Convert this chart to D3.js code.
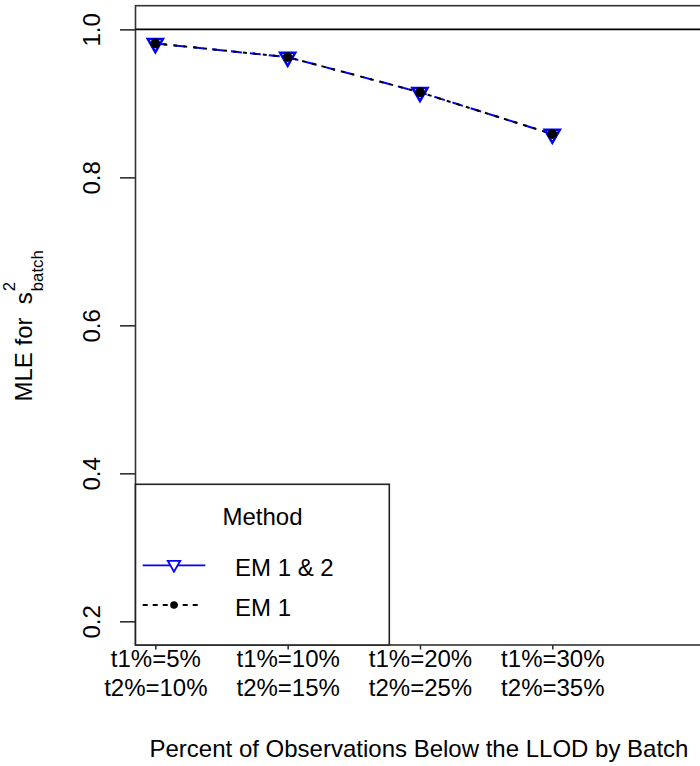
<!DOCTYPE html>
<html>
<head>
<meta charset="utf-8">
<script src="https://cdn.jsdelivr.net/npm/d3@7"></script>
<style>
  html, body { margin: 0; padding: 0; background: #fff; }
  svg text { font-family: "Liberation Sans", Arial, sans-serif; fill: #000; }
</style>
</head>
<body>
<svg id="chart" width="700" height="766"></svg>
<script>
// Censoring scenarios (x positions 1..4) and the estimated batch variance
const scenarios = [1, 2, 3, 4];
const labelsT1 = ["t1%=5%", "t1%=10%", "t1%=20%", "t1%=30%"];
const labelsT2 = ["t2%=10%", "t2%=15%", "t2%=25%", "t2%=35%"];
const em12 = [0.981, 0.9625, 0.915, 0.8585];
const em1 = [0.981, 0.9625, 0.915, 0.8585];
const yTicks = [0.2, 0.4, 0.6, 0.8, 1.0];
const refLine = 1.0;
const seriesNames = ["EM 1 & 2", "EM 1"];

(function draw() {
  const svg = d3.select("#chart");
  const pLeft = 135.5, pTop = 5.7, pBottom = 645, pRight = 704.5;

  const x = d3.scaleLinear().domain([0.85, 5.15]).range([pLeft, pRight]);
  const y = d3.scaleLinear().domain([0.168, 1.032]).range([pBottom, pTop]);

  const FS = 24;

  // Y axis
  const yAxis = svg.append("g")
    .attr("transform", `translate(${pLeft},0)`)
    .call(d3.axisLeft(y).tickValues(yTicks).tickSize(15.5).tickFormat(d3.format(".1f")));
  yAxis.select(".domain").remove();
  yAxis.selectAll("line").attr("stroke", "#222").attr("stroke-width", 1.5);
  yAxis.selectAll("text")
    .attr("transform", "rotate(-90)")
    .attr("x", 0).attr("y", -35.5).attr("dy", null)
    .attr("text-anchor", "middle")
    .attr("fill", "#000")
    .style("font-size", FS + "px");

  // X axis (short ticks, two-line labels)
  const xAxis = svg.append("g")
    .attr("transform", `translate(0,${pBottom})`)
    .call(d3.axisBottom(x).tickValues(scenarios).tickSize(4.5).tickFormat(""));
  xAxis.select(".domain").remove();
  xAxis.selectAll("line").attr("stroke", "#222").attr("stroke-width", 1.5);
  xAxis.selectAll(".tick").each(function(d, i) {
    const g = d3.select(this);
    g.append("text").attr("x", 0).attr("y", 22.3).attr("text-anchor", "middle")
      .attr("fill", "#000").style("font-size", FS + "px").text(labelsT1[i]);
    g.append("text").attr("x", 0).attr("y", 51.3).attr("text-anchor", "middle")
      .attr("fill", "#000").style("font-size", FS + "px").text(labelsT2[i]);
  });

  // Plot frame (right side runs past the canvas)
  svg.append("rect")
    .attr("x", pLeft).attr("y", pTop)
    .attr("width", pRight - pLeft).attr("height", pBottom - pTop)
    .attr("fill", "none").attr("stroke", "#333").attr("stroke-width", 1.6);

  // Reference line at 1
  svg.append("line")
    .attr("x1", pLeft).attr("x2", pRight)
    .attr("y1", y(refLine)).attr("y2", y(refLine))
    .attr("stroke", "#000").attr("stroke-width", 1.6);

  // Axis titles
  svg.append("text")
    .attr("x", (pLeft + pRight) / 2 - 1).attr("y", 756.5)
    .attr("text-anchor", "middle").style("font-size", FS + "px")
    .text("Percent of Observations Below the LLOD by Batch");

  const yl = svg.append("g").attr("transform", `translate(32,${(pTop + pBottom) / 2}) rotate(-90)`);
  const main = yl.append("text").style("font-size", FS + "px").attr("xml:space", "preserve")
    .text("MLE for  s");
  const sup = yl.append("text").style("font-size", (FS * 0.7) + "px").text("2");
  const sub = yl.append("text").style("font-size", (FS * 0.7) + "px").text("batch");
  const wMain = main.node().getComputedTextLength();
  const wScr = Math.max(sup.node().getComputedTextLength(), sub.node().getComputedTextLength()) + 2;
  const startX = -(wMain + wScr) / 2;
  main.attr("x", startX).attr("y", 0);
  sup.attr("x", startX + wMain + 1).attr("y", -17);
  sub.attr("x", startX + wMain + 1).attr("y", 11);

  // Series lines
  const line = d3.line().x((d, i) => x(scenarios[i])).y(d => y(d));
  svg.append("path").datum(em12).attr("d", line)
    .attr("fill", "none").attr("stroke", "#0000ff").attr("stroke-width", 2)
    .attr("stroke-dasharray", "11,8");
  svg.append("path").datum(em1).attr("d", line)
    .attr("fill", "none").attr("stroke", "#000").attr("stroke-width", 2)
    .attr("stroke-dasharray", "4,6").attr("stroke-dashoffset", 2);

  // Down-pointing triangle centred on the point (R pch 6 geometry)
  function triPath(cx, cy, r) {
    const xc = 1.347 * r, yc = 0.778 * r, rr = 1.555 * r;
    return `M${cx - xc},${cy - yc}L${cx + xc},${cy - yc}L${cx},${cy + rr}Z`;
  }

  svg.append("g").selectAll("path").data(em12).join("path")
    .attr("d", (d, i) => triPath(x(scenarios[i]), y(d), 5.6))
    .attr("fill", "none").attr("stroke", "#0000ff").attr("stroke-width", 2.5);
  svg.append("g").selectAll("circle").data(em1).join("circle")
    .attr("cx", (d, i) => x(scenarios[i])).attr("cy", d => y(d))
    .attr("r", 4.9).attr("fill", "#000");

  // Legend
  const lg = svg.append("g");
  lg.append("rect")
    .attr("x", pLeft).attr("y", 484.3)
    .attr("width", 389.3 - pLeft).attr("height", pBottom - 484.3)
    .attr("fill", "#fff").attr("stroke", "#222").attr("stroke-width", 1.6);
  lg.append("text").attr("x", 262.5).attr("y", 525)
    .attr("text-anchor", "middle").style("font-size", FS + "px").text("Method");
  lg.append("line").attr("x1", 142.7).attr("x2", 205.3).attr("y1", 565.3).attr("y2", 565.3)
    .attr("stroke", "#0000ff").attr("stroke-width", 1.8);
  lg.append("path").attr("d", triPath(174, 564.5, 4.6))
    .attr("fill", "#fff").attr("stroke", "#0000ff").attr("stroke-width", 1.8);
  lg.append("line").attr("x1", 142.7).attr("x2", 200).attr("y1", 605).attr("y2", 605)
    .attr("stroke", "#000").attr("stroke-width", 1.8).attr("stroke-dasharray", "5,5");
  lg.append("circle").attr("cx", 174).attr("cy", 605).attr("r", 3.8).attr("fill", "#000");
  lg.append("text").attr("x", 235).attr("y", 576).style("font-size", FS + "px").text(seriesNames[0]);
  lg.append("text").attr("x", 235).attr("y", 615.7).style("font-size", FS + "px").text(seriesNames[1]);
})();
</script>
</body>
</html>
